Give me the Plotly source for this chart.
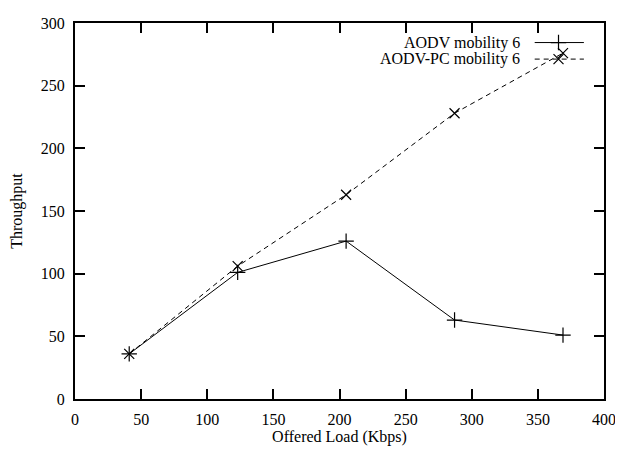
import plotly.graph_objects as go

# Data
offered_load = [41, 123, 205, 287, 369]
aodv_throughput = [36, 101, 126, 63, 51]
aodv_pc_throughput = [36, 106, 163, 228, 276]
series_names = ["AODV mobility 6", "AODV-PC mobility 6"]

x_ticks = [0, 50, 100, 150, 200, 250, 300, 350, 400]
y_ticks = [0, 50, 100, 150, 200, 250, 300]

FONT = "Liberation Serif, Times New Roman, serif"
FS = 16

fig = go.Figure()

fig.add_trace(go.Scatter(
    x=offered_load, y=aodv_throughput, mode="lines+markers", name=series_names[0],
    line=dict(color="black", width=1),
    marker=dict(symbol="cross-thin", size=11, line=dict(color="black", width=1.2)),
    showlegend=False,
))
fig.add_trace(go.Scatter(
    x=offered_load, y=aodv_pc_throughput, mode="lines+markers", name=series_names[1],
    line=dict(color="black", width=1, dash="5px,4px"),
    marker=dict(symbol="x-thin", size=10, line=dict(color="black", width=1.2)),
    showlegend=False,
))

# gnuplot-style key: text right-aligned, sample to its right (overlay axes 0..1)
key_rows = [0.948, 0.904]
key_styles = [
    dict(line=dict(color="black", width=1), sym="cross-thin", size=11),
    dict(line=dict(color="black", width=1, dash="5px,4px"), sym="x-thin", size=10),
]
for name, yk, st in zip(series_names, key_rows, key_styles):
    fig.add_trace(go.Scatter(
        x=[0.869, 0.962], y=[yk, yk], mode="lines", line=st["line"],
        xaxis="x2", yaxis="y2", showlegend=False, hoverinfo="skip",
    ))
    fig.add_trace(go.Scatter(
        x=[0.914], y=[yk], mode="markers",
        marker=dict(symbol=st["sym"], size=st["size"], line=dict(color="black", width=1.2)),
        xaxis="x2", yaxis="y2", showlegend=False, hoverinfo="skip",
    ))
    fig.add_annotation(
        x=0.845, y=yk, xref="x2", yref="y2", text=name, showarrow=False,
        xanchor="right", yanchor="middle", font=dict(family=FONT, size=FS, color="black"),
    )

axis_common = dict(
    showgrid=False, zeroline=False, showline=True, linecolor="black", linewidth=2,
    mirror="allticks", ticks="inside", ticklen=10, tickwidth=1.5, tickcolor="black",
    tickfont=dict(family=FONT, size=FS, color="black"), ticklabeloverflow="allow",
    ticklabelstandoff=5,
)

# page body has an 8px margin, so the figure is offset by (8, 8)
fig.update_layout(
    width=615, height=442,
    margin=dict(l=67, r=16, t=7, b=49),
    paper_bgcolor="white", plot_bgcolor="white",
    font=dict(family=FONT, size=FS, color="black"),
    xaxis=dict(range=[0, 400], tickvals=x_ticks, **axis_common,
               title=dict(text="Offered Load (Kbps)", font=dict(family=FONT, size=FS), standoff=4)),
    yaxis=dict(range=[0, 300], tickvals=y_ticks, **axis_common,
               title=dict(text="Throughput", font=dict(family=FONT, size=FS), standoff=14)),
    xaxis2=dict(overlaying="x", range=[0, 1], visible=False, fixedrange=True),
    yaxis2=dict(overlaying="y", range=[0, 1], visible=False, fixedrange=True),
)

fig.write_html("out.html")
